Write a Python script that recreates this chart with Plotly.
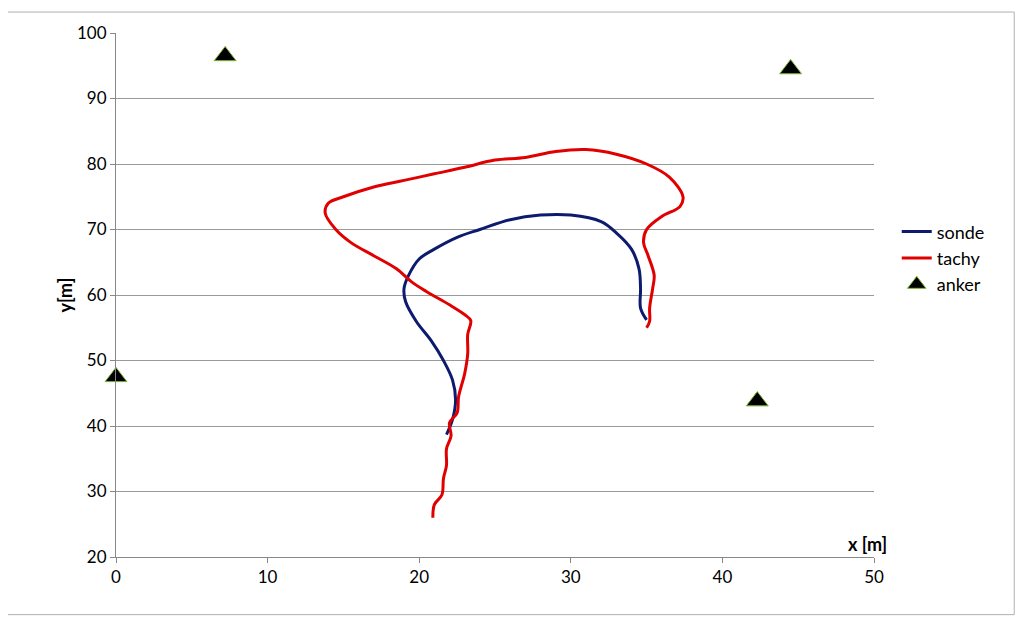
import plotly.graph_objects as go

sonde_x = [21.8, 22.2, 22.4, 22.2, 21.6, 20.8, 19.8, 19.1, 19.0, 19.3, 20.0, 21.0, 22.5, 24.0,
           26.0, 28.0, 30.0, 32.0, 33.0, 34.0, 34.5, 34.6, 34.6, 35.0]
sonde_y = [38.7, 41.0, 44.0, 47.0, 50.0, 53.0, 56.0, 59.0, 61.0, 63.0, 65.5, 67.0, 68.8, 70.0,
           71.5, 72.2, 72.2, 71.2, 69.5, 67.0, 64.0, 61.0, 58.0, 56.2]

tachy_x = [20.9, 21.0, 21.5, 21.6, 21.8, 21.8, 22.1, 22.0, 22.5, 22.6, 23.0, 23.2, 23.2, 23.4,
           23.0, 22.0, 20.5, 19.5, 18.5, 17.0, 15.5, 14.5, 13.8, 14.0, 15.0, 17.0, 19.0, 21.0,
           23.0, 25.0, 27.0, 29.0, 31.0, 33.0, 35.0, 36.5, 37.4, 37.2, 36.0, 35.0, 34.8, 35.1,
           35.5, 35.4, 35.2, 35.2, 35.0]
tachy_y = [26.0, 28.0, 29.5, 32.0, 34.0, 36.5, 38.5, 40.5, 42.0, 44.5, 48.0, 51.0, 54.0, 56.1,
           57.0, 58.5, 60.5, 62.0, 64.0, 66.0, 68.0, 70.0, 72.5, 74.0, 75.0, 76.5, 77.5, 78.5,
           79.5, 80.6, 81.0, 81.9, 82.2, 81.5, 80.0, 78.0, 75.0, 73.5, 72.0, 70.0, 68.0, 66.0,
           63.0, 61.0, 58.0, 56.0, 55.0]

anker_x = [0, 7.2, 44.5, 42.3]
anker_y = [47.5, 96.5, 94.5, 43.8]

font = "Lato, Liberation Sans, sans-serif"

fig = go.Figure()
fig.add_trace(go.Scatter(x=sonde_x, y=sonde_y, name="sonde", mode="lines",
                         line=dict(color="#0d1b6e", width=3, shape="spline")))
fig.add_trace(go.Scatter(x=tachy_x, y=tachy_y, name="tachy", mode="lines",
                         line=dict(color="#e00000", width=3, shape="spline")))
fig.add_trace(go.Scatter(x=anker_x, y=anker_y, name="anker", mode="markers",
                         cliponaxis=False,
                         marker=dict(symbol="triangle-up", size=19, color="#000000",
                                     line=dict(color="#7fb539", width=1))))

fig.update_layout(
    width=1024, height=623,
    margin=dict(l=108, r=158, t=25, b=74),
    plot_bgcolor="white", paper_bgcolor="white",
    font=dict(family=font, size=17, color="#000000"),
    legend=dict(x=1.03, y=0.57, yanchor="middle", font=dict(size=18),
                tracegroupgap=4),
    shapes=[dict(type="rect", xref="paper", yref="paper", x0=-0.145, x1=1.185,
                 y0=-0.11, y1=1.04, line=dict(color="#b0b0b0", width=1))],
    annotations=[
        dict(text="<b>x [m]</b>", xref="paper", yref="paper", x=1.02, y=0.0,
             xanchor="right", yanchor="bottom", showarrow=False, font=dict(size=18)),
        dict(text="<b>y[m]</b>", xref="paper", yref="paper", x=-0.085, y=0.5,
             textangle=-90, showarrow=False, font=dict(size=18)),
    ],
)
fig.update_xaxes(range=[0, 50], dtick=10, showgrid=False, zeroline=False,
                 showline=True, linecolor="#888888", ticks="outside", ticklen=5,
                 tickcolor="#888888")
fig.update_yaxes(range=[20, 100], dtick=10, showgrid=True, gridcolor="#9a9a9a",
                 zeroline=False, showline=True, linecolor="#888888", ticks="outside",
                 ticklen=5, tickcolor="#888888")

fig.write_html("out.html")
